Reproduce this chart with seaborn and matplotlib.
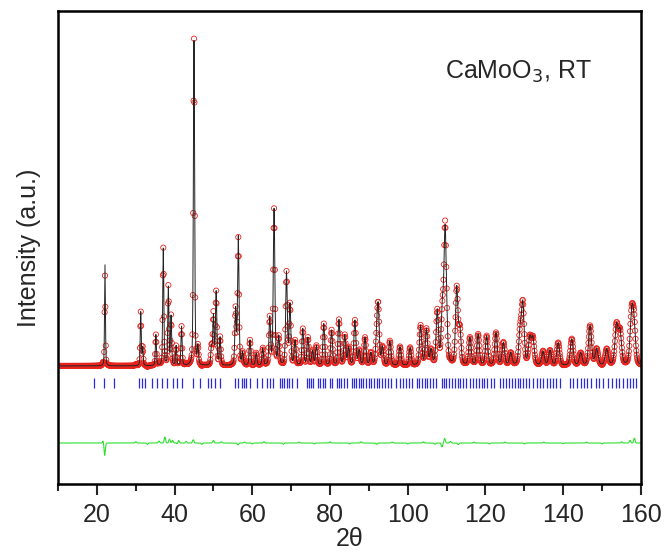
import numpy as np
import pandas as pd
import seaborn as sns
import matplotlib.pyplot as plt

# peaks: position (2theta) and height (a.u., strongest = 1000)
peak_pos = [22.1, 31.3, 31.8, 35.2, 37.1, 38.4, 39.1, 40.4, 41.8, 45.0, 46.0,
            49.5, 50.0, 50.7, 51.7, 55.7, 56.4, 57.5, 59.4, 61.0, 62.7, 64.5,
            65.6, 66.8, 68.8, 69.7, 71.0, 73.0, 74.3, 75.5, 76.5, 78.4, 80.4,
            82.3, 83.8, 84.8, 86.4, 87.5, 89.0, 90.5, 92.0, 92.4, 93.5, 95.4,
            98.0, 100.6, 103.3, 104.8, 106.0, 107.6, 108.9, 109.6, 110.0, 112.6,
            113.4, 116.0, 118.1, 120.3, 122.7, 124.6, 126.5, 128.9, 129.6, 131.4,
            132.2, 134.8, 136.6, 138.7, 142.2, 144.5, 146.9, 148.6, 151.2, 153.7,
            154.6, 157.6, 158.2]
peak_height = [311, 165, 55, 95, 360, 240, 150, 60, 120, 1000, 55,
               55, 150, 225, 85, 170, 395, 38, 78, 38, 52, 145,
               480, 85, 285, 185, 75, 112, 85, 45, 60, 128, 108,
               140, 92, 55, 138, 45, 85, 38, 75, 170, 55, 75,
               58, 55, 122, 110, 45, 165, 160, 385, 70, 235,
               105, 85, 95, 90, 100, 70, 38, 95, 185, 82,
               80, 42, 46, 70, 82, 38, 122, 50, 50, 120,
               100, 145, 110]

# bumps seen in the difference curve (obs - calc)
diff_pos = [21.7, 22.0, 30.0, 33.0, 36.0, 37.5, 38.7, 39.5, 40.8, 41.0, 43.0,
            44.8, 47.0, 50.0, 52.0, 56.3, 58.0, 60.0, 63.0, 68.0, 72.0, 76.0,
            80.0, 85.0, 88.0, 92.0, 96.0, 100.0, 104.0, 107.0, 108.8, 109.5,
            111.0, 113.0, 117.0, 121.0, 125.0, 130.0, 135.0, 140.0, 146.0,
            150.0, 155.0, 157.2, 158.3]
diff_amp = [10, -40, 4, -4, 6, 18, 12, 8, -5, 10, 5,
            10, -4, 8, 4, -6, 3, -3, 4, -4, 3, -3,
            4, -3, 4, -4, 3, -3, 4, -4, -12, 14,
            5, -5, 3, -3, 3, -3, 3, -2, 3,
            -3, 4, 8, 15]

# Bragg reflection positions
tick_pos = [19.2, 21.8, 24.4,
            30.9, 31.5, 32.4, 34.1, 35.4, 36.7, 38.1, 39.7, 40.5, 41.8, 44.8, 46.5,
            48.7, 49.5, 50.4, 51.7,
            55.5, 56.4, 57.3, 57.9, 58.5, 59.4, 61.1, 62.4, 63.7, 64.5, 65.4,
            67.1, 67.6, 68.2, 68.9, 69.5, 70.1, 71.4,
            74.0, 74.6, 75.1, 75.7, 76.9, 77.5, 78.1, 78.7, 80.0, 80.4,
            81.7, 82.3, 82.9, 83.5, 84.3, 85.6, 86.2, 86.8, 87.4, 88.0, 88.6,
            89.3, 89.9, 90.6, 91.4, 92.1, 92.6, 93.3, 94.2, 95.0, 95.8,
            97.1, 97.9, 98.7, 99.6, 100.4, 101.2,
            102.3, 102.9, 103.6, 104.4, 105.0, 105.8, 106.6, 107.3,
            108.7, 109.3, 109.9, 110.6, 111.3, 112.1, 112.8, 113.5, 114.2,
            115.1, 115.9, 116.7, 117.5, 118.3, 119.0, 119.7, 120.5, 121.3, 122.2,
            123.7, 124.5, 125.3, 126.0, 126.8, 127.6, 128.3, 129.0, 129.7, 130.5, 131.3, 132.1,
            133.2, 134.0, 134.9, 135.7, 136.5, 137.3, 138.2, 139.1,
            141.7, 142.6, 143.6, 144.5, 145.4, 146.2, 147.1, 148.4, 149.3,
            150.3, 151.4, 152.5, 153.5, 154.4, 155.3,
            156.3, 157.1, 158.0, 158.8]

tick_y = -52
diff_offset = -237

# build profile from the peak list (pseudo-Voigt, width grows with angle)
two_theta = np.arange(10, 160.01, 0.1)
calc = np.zeros_like(two_theta)
for p, h in zip(peak_pos, peak_height):
    fwhm = 0.25 + 0.005 * (p - 20)
    g = np.exp(-4 * np.log(2) * ((two_theta - p) / fwhm) ** 2)
    l = 1 / (1 + 4 * ((two_theta - p) / fwhm) ** 2)
    calc += h * (0.65 * g + 0.35 * l)

diff = np.zeros_like(two_theta)
for p, a in zip(diff_pos, diff_amp):
    diff += a * np.exp(-((two_theta - p) / 0.25) ** 2)
obs = calc + diff

df = pd.DataFrame({"two_theta": two_theta, "obs": obs, "calc": calc,
                   "diff": diff + diff_offset})

sns.set_theme(style="white")
plt.rcParams["font.family"] = ["Liberation Sans", "DejaVu Sans"]

fig = plt.figure(figsize=(6.64, 5.54), dpi=100)
ax = fig.add_axes([0.0873, 0.1264, 0.878, 0.8538])

sns.scatterplot(data=df, x="two_theta", y="obs", ax=ax, marker="o", s=14,
                facecolor="none", edgecolor="#e8231e", linewidth=0.6, zorder=2)
sns.lineplot(data=df, x="two_theta", y="calc", ax=ax, color="#222222", lw=0.7, zorder=3)
sns.lineplot(data=df, x="two_theta", y="diff", ax=ax, color="#2ee02e", lw=0.8)
ax.vlines(tick_pos, tick_y - 15, tick_y + 15, color="#2a2ae0", lw=0.9)

ax.text(109.5, 905, "CaMoO$_3$, RT", fontsize=18, va="center", ha="left")

ax.set_xlim(10, 160)
ax.set_ylim(-363, 1092)
ax.set_xticks(range(20, 161, 20))
ax.set_xticks(range(10, 161, 20), minor=True)
ax.set_yticks([])
ax.tick_params(axis="x", which="major", direction="out", length=8, width=1.5,
               labelsize=18, bottom=True, pad=6)
ax.tick_params(axis="x", which="minor", direction="out", length=5, width=1.5,
               bottom=True)
for s in ax.spines.values():
    s.set_linewidth(1.8)
    s.set_color("black")

ax.set_xlabel("2θ", fontsize=18, labelpad=0)
ax.set_ylabel("Intensity (a.u.)", fontsize=18, labelpad=12)

fig.savefig("out.png", dpi=100)
